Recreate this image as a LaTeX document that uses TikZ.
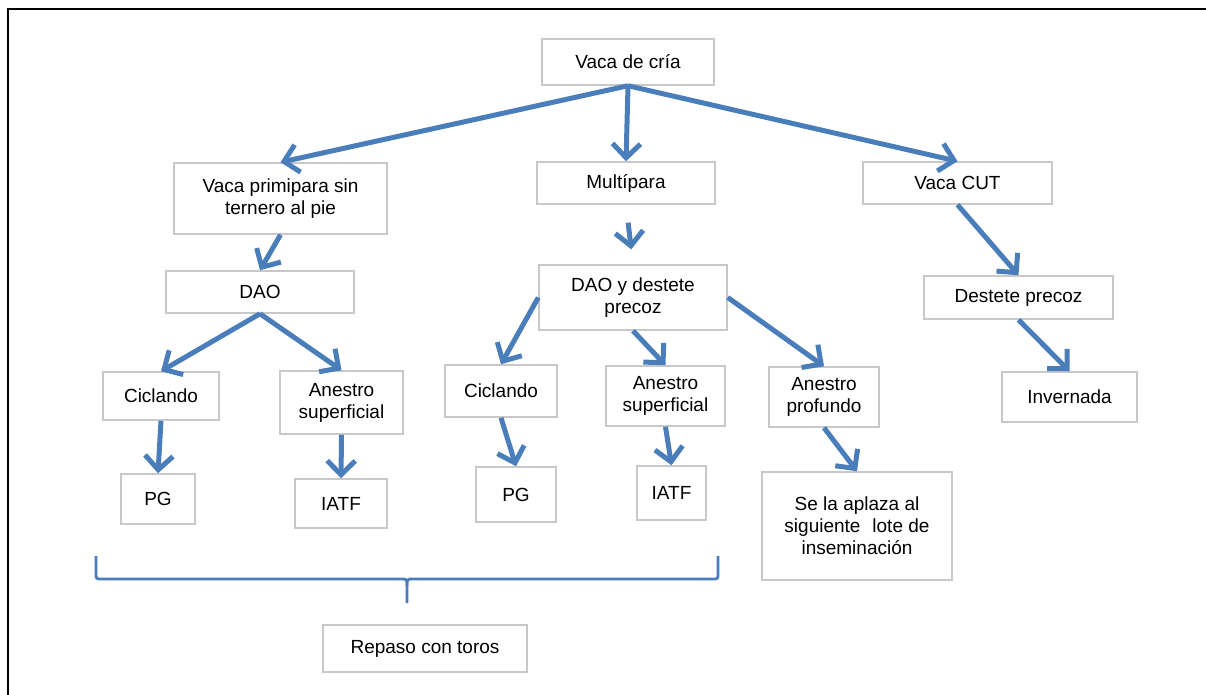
\documentclass[tikz,border=0pt]{standalone}
\usepackage{fontspec}
\setmainfont{Liberation Sans}
\usetikzlibrary{arrows.meta}
\definecolor{flowblue}{HTML}{4A7EBB}
\definecolor{boxgray}{HTML}{C8C8C8}
% \flowbox{name}{x1}{y1}{x2}{y2}{text}: a box given by its two corners
\newcommand\flowbox[6]{%
  \node[box, minimum width={(#4-#2)*1pt}, minimum height={(#5-#3)*1pt}]
    (#1) at ({(#2+#4)/2},{(#3+#5)/2}) {#6};}
\begin{document}
\begin{tikzpicture}[x=1pt,y=-1pt,
  box/.style={draw=boxgray, line width=1.5pt, inner sep=0pt, align=center,
    font=\fontsize{19}{22}\selectfont, text=black},
  flow/.style={draw=flowblue, line width=5pt,
    -{Straight Barb[length=14pt,width=28pt]}},
  bracket/.style={draw=flowblue, line width=2.8pt}]
\useasboundingbox (0,0) rectangle (1206,695);
% frame
\draw[line width=2.5pt] (8,695) -- (8,9) -- (1206,9);

% level 0 and 1
\flowbox{vdc}{542}{39}{714}{85}{Vaca de cría}
\flowbox{vp}{174}{163}{387}{234}{Vaca primipara sin\\ternero al pie}
\flowbox{mp}{537}{162}{715}{204}{Multípara}
\flowbox{cut}{863}{162}{1052}{204}{Vaca CUT}

% level 2
\flowbox{dao}{166}{271}{354}{313}{DAO}
\flowbox{daod}{539}{265}{727}{330}{DAO y destete\\precoz}
\flowbox{dp}{924}{276}{1113}{319}{Destete precoz}

% level 3
\flowbox{cic1}{103}{372}{219}{420}{Ciclando}
\flowbox{ans1}{280}{371}{403}{434}{Anestro\\superficial}
\flowbox{cic2}{445}{365}{557}{417}{Ciclando}
\flowbox{ans2}{606}{366}{725}{426}{Anestro\\superficial}
\flowbox{ap}{769}{367}{879}{427}{Anestro\\profundo}
\flowbox{inv}{1002}{372}{1137}{422}{Invernada}

% level 4
\flowbox{pg1}{121}{474}{195}{524}{PG}
\flowbox{iatf1}{295}{479}{387}{528}{IATF}
\flowbox{pg2}{476}{467}{556}{522}{PG}
\flowbox{iatf2}{637}{466}{706}{520}{IATF}
\flowbox{sla}{762}{472}{952}{580}{Se la aplaza al\\siguiente\hspace{0.35em} lote de\\inseminación}

\flowbox{rep}{323}{625}{527}{672}{Repaso con toros}

% connectors
\draw[flow] (vdc.south) -- (vp.north);
\draw[flow] (vdc.south) -- (mp.north);
\draw[flow] (vdc.south) -- (cut.north);
\draw[flow] (vp.south) -- (dao.north);
\draw[flow, shorten <=18pt, shorten >=15pt] (mp.south) -- (daod.north);
\draw[flow] (cut.south) -- (dp.north);
\draw[flow] (dao.south) -- (cic1.north);
\draw[flow] (dao.south) -- (ans1.north);
\draw[flow] (daod.west) -- (cic2.north);
\draw[flow] (daod.south) -- (ans2.north);
\draw[flow] (daod.east) -- (ap.north);
\draw[flow] (dp.south) -- (inv.north);
\draw[flow] (cic1.south) -- (pg1.north);
\draw[flow] (ans1.south) -- (iatf1.north);
\draw[flow] (cic2.south) -- (pg2.north);
\draw[flow] (ans2.south) -- (iatf2.north);
\draw[flow] (ap.south) -- (sla.north);

% brace over the first two groups
\coordinate (brL) at (96,556);
\coordinate (brR) at (718,556);
\coordinate (brM) at (407,603);
\draw[bracket] (brL) -- (96,573) .. controls (96,579) .. (102,579)
  -- (401,579) .. controls (407,579) .. (407,586) -- (brM);
\draw[bracket] (brR) -- (718,573) .. controls (718,579) .. (712,579)
  -- (413,579) .. controls (407,579) .. (407,586);
\end{tikzpicture}
\end{document}
